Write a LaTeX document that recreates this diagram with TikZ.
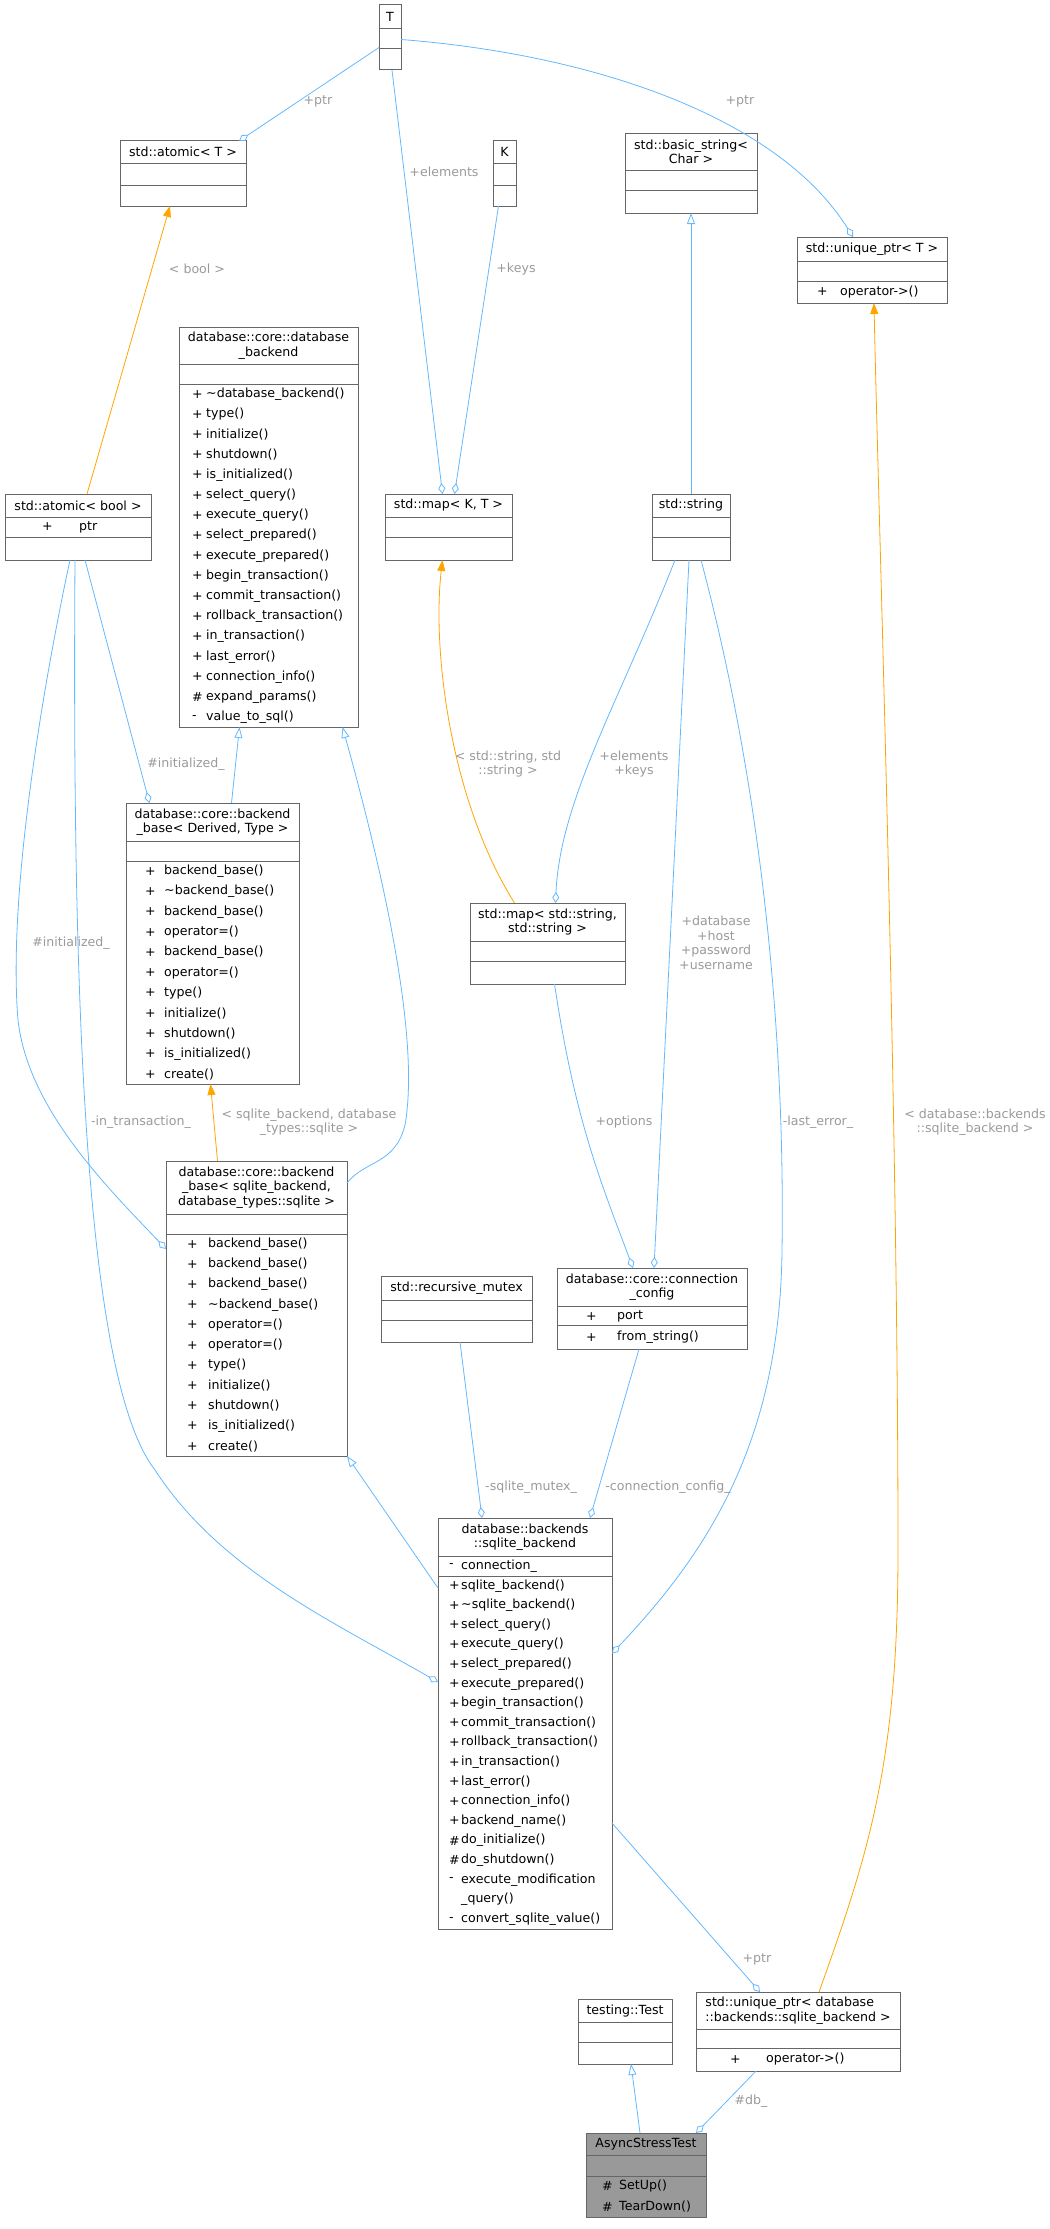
\documentclass[tikz,border=0pt]{standalone}
\usepackage{fontspec}
\setmainfont{DejaVu Sans}
\usetikzlibrary{arrows.meta,calc}

\definecolor{edgeblue}{HTML}{63B8FF}
\definecolor{edgeorange}{HTML}{FFA500}
\definecolor{labelgray}{HTML}{9A9A9A}
\definecolor{boxgray}{HTML}{666666}
\definecolor{mainfill}{HTML}{999999}

\tikzset{
  classbox/.style = {draw=boxgray, line width=1pt, inner sep=0pt, outer sep=0pt},
  boxrule/.style = {draw=boxgray, line width=1pt},
  title/.style = {inner sep=0pt, align=center, font=\fontsize{12.6}{14.5}\selectfont},
  member/.style = {anchor=west, inner sep=0pt, font=\fontsize{12.6}{14.5}\selectfont},
  lbl/.style = {inner sep=0pt, align=center, text=labelgray, font=\fontsize{12.6}{14.5}\selectfont},
  uses/.style = {draw=edgeblue, line width=0.8pt, -{Diamond[open, length=11pt, width=7pt]}},
  inherits/.style = {draw=edgeblue, line width=0.8pt, -{Triangle[open, length=11pt, width=8pt]}},
  instance/.style = {draw=edgeorange, line width=0.8pt, -{Triangle[length=11pt, width=8pt]}}
}

% box with separator lines: name, x1, y1, x2, y2, fill, separators
\newcommand\umlbox[7]{%
  \node[classbox, fill=#6, minimum width={(#4-#2)*1pt}, minimum height={(#5-#3)*1pt},
        anchor=north west] (#1) at (#2,#3) {};
  \foreach \s in {#7} \draw[boxrule] (#2,\s) -- (#4,\s);}

% member rows: x marker, x name, y top, row height, list
\newcommand\umlrows[5]{%
  \foreach \m/\t [count=\i] in {#5} {
    \node[member] at (#1,{#3+(\i-0.5)*#4}) {\m};
    \node[member] at (#2,{#3+(\i-0.5)*#4}) {\t};}}

\begin{document}
\begin{tikzpicture}[x=1pt, y=-1pt]
    \useasboundingbox (0,0) rectangle (1049,2229);

    % Top row: template parameters and templates.
    \umlbox{T}{379}{5}{401}{70}{white}{29,49}
    \node[title] at (390,17) {T};
    \umlbox{atT}{120}{141}{246}{206}{white}{163,185}
    \node[title] at (183,152) {std::atomic< T >};
    \umlbox{K}{493}{141}{516}{206}{white}{163,185}
    \node[title] at (504.5,152) {K};
    \umlbox{bstr}{625}{134}{757}{213}{white}{170,190}
    \node[title] at (691,152) {std::basic\_string<\\Char >};
    \umlbox{upT}{797}{237}{947}{303}{white}{261,281}
    \node[title] at (872,249) {std::unique\_ptr< T >};
    \umlrows{817}{840}{281}{22}{+/operator->()}

    % Database backend interface.
    \umlbox{dbb}{179}{327}{358}{727}{white}{364,384}
    \node[title] at (268.5,345.5) {database::core::database\\\_backend};
    \umlrows{192}{206}{384}{20.2}{+/\textasciitilde database\_backend(), +/type(), +/initialize(),
      +/shutdown(), +/is\_initialized(), +/select\_query(), +/execute\_query(),
      +/select\_prepared(), +/execute\_prepared(), +/begin\_transaction(),
      +/commit\_transaction(), +/rollback\_transaction(), +/in\_transaction(),
      +/last\_error(), +/connection\_info(), \#/expand\_params(), -/value\_to\_sql()}

    % Second row.
    \umlbox{atb}{5}{494}{151}{560}{white}{517,537}
    \node[title] at (78,505.5) {std::atomic< bool >};
    \umlrows{42}{79}{517}{20}{+/ptr}
    \umlbox{mapKT}{385}{494}{512}{560}{white}{517,537}
    \node[title] at (448.5,505.5) {std::map< K, T >};
    \umlbox{str}{652}{494}{730}{560}{white}{517,537}
    \node[title] at (691,505.5) {std::string};

    % Backend base templates.
    \umlbox{bbDT}{126}{803}{299}{1084}{white}{841,861}
    \node[title] at (212.5,822) {database::core::backend\\\_base< Derived, Type >};
    \umlrows{145}{164}{861}{20.3}{+/backend\_base(), +/\textasciitilde backend\_base(),
      +/backend\_base(), +/operator=(), +/backend\_base(), +/operator=(), +/type(),
      +/initialize(), +/shutdown(), +/is\_initialized(), +/create()}
    \umlbox{mapSS}{470}{903}{625}{984}{white}{941,961}
    \node[title] at (547.5,922) {std::map< std::string,\\std::string >};
    \umlbox{bbS}{166}{1161}{347}{1456}{white}{1214,1234}
    \node[title] at (256.5,1187.5) {database::core::backend\\\_base< sqlite\_backend,\\database\_types::sqlite >};
    \umlrows{187}{208}{1234}{20.2}{+/backend\_base(), +/backend\_base(), +/backend\_base(),
      +/\textasciitilde backend\_base(), +/operator=(), +/operator=(), +/type(),
      +/initialize(), +/shutdown(), +/is\_initialized(), +/create()}
    \umlbox{rmutex}{381}{1276}{532}{1342}{white}{1300,1320}
    \node[title] at (456.5,1288) {std::recursive\_mutex};
    \umlbox{cconf}{557}{1268}{747}{1349}{white}{1306,1325}
    \node[title] at (652,1287) {database::core::connection\\\_config};
    \umlrows{586}{617}{1306}{21}{+/port, +/from\_string()}

    % SQLite backend.
    \umlbox{sqlite}{438}{1518}{612}{1929}{white}{1556,1576}
    \node[title] at (525,1537) {database::backends\\::sqlite\_backend};
    \umlrows{449}{461}{1556}{20}{-/connection\_}
    \umlrows{449}{461}{1576}{19.6}{+/sqlite\_backend(), +/\textasciitilde sqlite\_backend(),
      +/select\_query(), +/execute\_query(), +/select\_prepared(), +/execute\_prepared(),
      +/begin\_transaction(), +/commit\_transaction(), +/rollback\_transaction(),
      +/in\_transaction(), +/last\_error(), +/connection\_info(), +/backend\_name(),
      \#/do\_initialize(), \#/do\_shutdown(), -/execute\_modification, /\_query(),
      -/convert\_sqlite\_value()}

    % Bottom: test fixture.
    \umlbox{test}{578}{1999}{672}{2064}{white}{2022,2042}
    \node[title] at (625,2010.5) {testing::Test};
    \umlbox{upS}{696}{1992}{900}{2071}{white}{2029,2048}
    \node[title, align=left] at (798,2010.5) {std::unique\_ptr< database\\::backends::sqlite\_backend >};
    \umlrows{730}{766}{2048}{23}{+/operator->()}
    \umlbox{ast}{586}{2133}{706}{2217}{mainfill}{2155,2176}
    \node[title] at (646,2144) {AsyncStressTest};
    \umlrows{602}{619}{2176}{20.5}{\#/SetUp(), \#/TearDown()}

    % Connectors from the T and K parameters.
    \draw[uses] ($(T.west)+(0,10)$) -- ($(atT.north)+(56,0)$);
    \draw[uses] ($(T.east)+(0,2)$) .. controls (600,55) and (780,120) .. ($(upT.north)+(-19,0)$);
    \draw[uses] ($(T.south)+(2,0)$) -- ($(mapKT.north)+(-6,0)$);
    \draw[uses] ($(K.south)+(-6,0)$) -- ($(mapKT.north)+(6,0)$);
    \node[lbl] (lptrA) at (318,101) {+ptr};
    \node[lbl] (lptrB) at (740,101) {+ptr};
    \node[lbl] (lelem) at (444,172) {+elements};
    \node[lbl] (lkeys) at (516,269) {+keys};

    % Inheritance and template instances.
    \draw[inherits] (str.north) -- (bstr.south);
    \draw[instance] ($(atb.north)+(9,0)$) -- ($(atT.south)+(-13,0)$);
    \node[lbl] (lbool) at (197,269) {< bool >};
    \draw[instance] ($(upS.north)+(21,0)$) .. controls (870,1850) and (898,1760) .. (898,1550)
        .. controls (898,1100) and (878,500) .. ($(upT.south)+(2,0)$);
    \node[lbl] (lupS) at (975,1122) {< database::backends\\::sqlite\_backend >};
    \draw[instance] ($(mapSS.north)+(-33,0)$) .. controls (450,800) and (432,650) .. ($(mapKT.south)+(-6,0)$);
    \node[lbl] (lmapSS) at (508,764) {< std::string, std\\::string >};
    \draw[inherits] ($(bbDT.north)+(19,0)$) -- ($(dbb.south)+(-29,0)$);
    \draw[inherits] ($(bbS.north east)+(0,22)$) .. controls (365,1160) and (395,1165) .. (405,1125)
        .. controls (420,1040) and (385,880) .. ($(dbb.south)+(74,0)$);
    \draw[instance] ($(bbS.north)+(-39,0)$) -- ($(bbDT.south)+(-2,0)$);
    \node[lbl] (lbbS) at (309,1122) {< sqlite\_backend, database\\\_types::sqlite >};
    \draw[inherits] ($(sqlite.west)+(0,-135.5)$) -- (bbS.south east);
    \draw[inherits] ($(ast.north)+(-6,0)$) -- ($(test.south)+(6,0)$);

    % Members of std::string.
    \draw[uses] ($(str.south)+(-16,0)$) .. controls (620,700) and (560,800) .. ($(mapSS.north)+(8,0)$);
    \node[lbl] (lek) at (634,764) {+elements\\+keys};
    \draw[uses] ($(str.south)+(-2,0)$) -- ($(cconf.north)+(2,0)$);
    \node[lbl] (lhost) at (716,943) {+database\\+host\\+password\\+username};
    \draw[uses] ($(str.south)+(10,0)$) .. controls (765,800) and (785,1050) .. (782,1250)
        .. controls (780,1450) and (700,1560) .. ($(sqlite.east)+(0,-70)$);
    \node[lbl] (lerr) at (818,1122) {-last\_error\_};
    \draw[uses] ($(mapSS.south)+(7,0)$) .. controls (575,1120) and (600,1180) .. ($(cconf.north)+(-19,0)$);
    \node[lbl] (lopt) at (624,1122) {+options};

    % Members of std::atomic< bool >.
    \draw[uses] ($(atb.south)+(7,0)$) -- ($(bbDT.north)+(-63,0)$);
    \node[lbl] (linitA) at (186,764) {\#initialized\_};
    \draw[uses] ($(atb.south)+(-8,0)$) .. controls (40,700) and (8,900) .. (18,1020)
        .. controls (28,1110) and (110,1190) .. ($(bbS.west)+(0,-59.5)$);
    \node[lbl] (linitB) at (71,943) {\#initialized\_};
    \draw[uses] ($(atb.south)+(-3,0)$) .. controls (72,1000) and (85,1380) .. (155,1470)
        .. controls (220,1570) and (330,1620) .. ($(sqlite.west)+(0,-41.5)$);
    \node[lbl] (ltrans) at (141,1122) {-in\_transaction\_};

    % Members of the SQLite backend and the fixture.
    \draw[uses] ($(rmutex.south)+(3.5,0)$) -- ($(sqlite.north)+(-43,0)$);
    \node[lbl] (lmutex) at (531,1487) {-sqlite\_mutex\_};
    \draw[uses] ($(cconf.south)+(-13,0)$) -- ($(sqlite.north)+(65,0)$);
    \node[lbl] (lconf) at (668,1487) {-connection\_config\_};
    \draw[uses] ($(sqlite.east)+(0,99.5)$) -- ($(upS.north)+(-38,0)$);
    \node[lbl] (lptrC) at (757,1959) {+ptr};
    \draw[uses] ($(upS.south)+(-42,0)$) -- ($(ast.north)+(50,0)$);
    \node[lbl] (ldb) at (751,2101) {\#db\_};
\end{tikzpicture}
\end{document}
